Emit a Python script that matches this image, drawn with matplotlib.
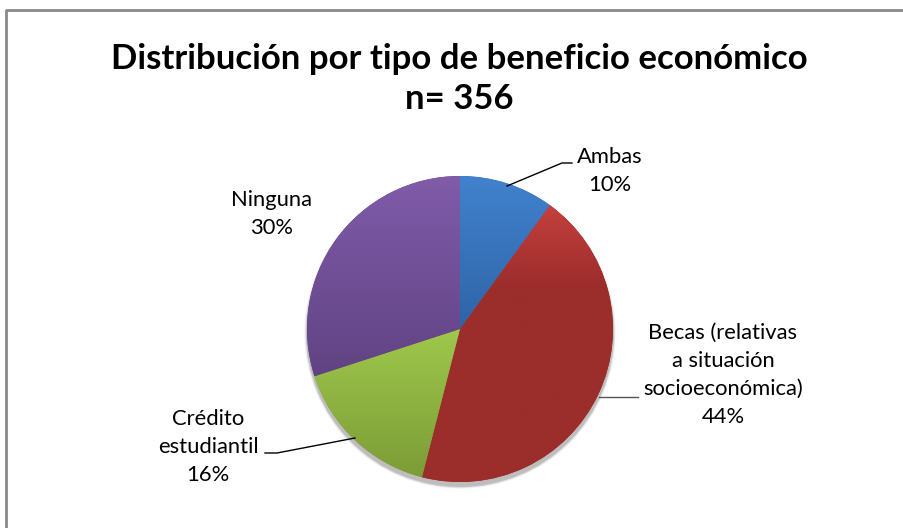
import numpy as np
import matplotlib.pyplot as plt
from matplotlib.lines import Line2D
from matplotlib.colors import to_rgb

# data
categories = ['Ambas', 'Becas (relativas\na situación\nsocioeconómica)', 'Crédito\nestudiantil', 'Ninguna']
percent = [10, 44, 16, 30]
title = 'Distribución por tipo de beneficio económico\nn= 356'

# gradient colours per slice (top, bottom) and how fast the ramp reaches the bottom colour
grad_top = ['#4182CE', '#C4403E', '#9FC84C', '#805CA9']
grad_bot = ['#2F64A6', '#9B2D2B', '#7C9C37', '#614383']
ramp = [1.0, 0.3, 1.0, 1.0]

W, H = 904, 528
FONT = 'Lato'


def py(y):
    # pixel row (from top) -> axis y
    return H - y


fig = plt.figure(figsize=(W / 100, H / 100), dpi=100)
ax = fig.add_axes([0, 0, 1, 1])

cx, cy, r = 460, py(329), 153

# soft shadow under the pie
for k, a in zip([7, 5, 3.5, 2], [0.04, 0.06, 0.08, 0.10]):
    ax.add_patch(plt.Circle((cx, cy - 4), r + k * 0.4, color='black', alpha=a, lw=0, zorder=1))

wedges, _ = ax.pie(percent, center=(cx, cy), radius=r, startangle=90, counterclock=False,
                   colors=grad_bot, wedgeprops=dict(linewidth=0, zorder=2), frame=True)

for w, c0, c1, rp in zip(wedges, grad_top, grad_bot, ramp):
    ext = w.get_path().get_extents()
    n = 200
    t = np.clip(np.linspace(0, 1, n) / rp, 0, 1)[:, None]
    col = (1 - t) * np.array(to_rgb(c0)) + t * np.array(to_rgb(c1))
    img = ax.imshow(col[:, None, :], extent=(ext.x0, ext.x1, ext.y0, ext.y1), origin='upper',
                    aspect='auto', interpolation='bilinear', zorder=3)
    img.set_clip_path(w)

ax.set_xlim(0, W)
ax.set_ylim(0, H)
ax.set_aspect('auto')
ax.axis('off')

# labels
labels = [f'{c}\n{p}%' for c, p in zip(categories, percent)]
label_pos = [(610, 171), (723, 375), (208, 447), (272, 214)]
for txt, (x, y) in zip(labels, label_pos):
    ax.text(x, py(y), txt, ha='center', va='center', fontsize=15.8, family=FONT,
            color='#000000', linespacing=1.5, zorder=5)

# leader lines
leaders = [
    [(507, 186), (562, 163), (572, 163)],
    [(599, 397), (638, 397)],
    [(355, 438), (277, 453), (265, 453)],
]
for pts in leaders:
    xs = [p[0] for p in pts]
    ys = [py(p[1]) for p in pts]
    color = '#000000' if len(pts) == 3 else '#555555'
    ax.plot(xs, ys, color=color, lw=1.0, zorder=5)

ax.text(459, py(79), title, ha='center', va='center', fontsize=25, fontweight='bold',
        family=FONT, linespacing=1.27)

# chart border (only left and top visible)
ax.add_line(Line2D([6, 6, W], [0, py(10), py(10)], color='#8A8A8A', lw=2, zorder=6))

fig.savefig('out.png', dpi=100)
